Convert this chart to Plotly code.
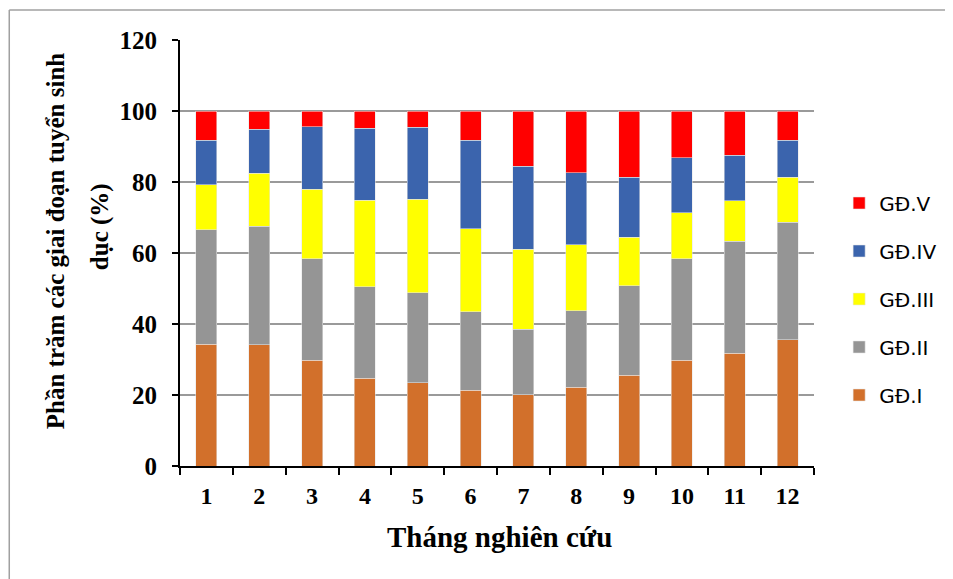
import plotly.graph_objects as go

months = ["1", "2", "3", "4", "5", "6", "7", "8", "9", "10", "11", "12"]
gd_I = [34.3, 34.1, 29.8, 24.7, 23.4, 21.3, 20.1, 22.2, 25.6, 29.8, 31.8, 35.6]
gd_II = [32.3, 33.5, 28.6, 25.8, 25.4, 22.2, 18.4, 21.6, 25.2, 28.6, 31.5, 33.0]
gd_III = [12.6, 14.9, 19.6, 24.4, 26.3, 23.4, 22.5, 18.5, 13.6, 12.9, 11.4, 12.7]
gd_IV = [12.5, 12.3, 17.6, 20.3, 20.3, 24.8, 23.4, 20.3, 16.9, 15.5, 12.8, 10.4]
gd_V = [8.3, 5.2, 4.4, 4.8, 4.6, 8.3, 15.6, 17.4, 18.7, 13.2, 12.5, 8.3]

series = [
    ("GĐ.I", gd_I, "#D2702B"),
    ("GĐ.II", gd_II, "#959595"),
    ("GĐ.III", gd_III, "#FFFF00"),
    ("GĐ.IV", gd_IV, "#3B64AD"),
    ("GĐ.V", gd_V, "#FF0000"),
]

fig = go.Figure()
n = len(series)
for i, (name, vals, col) in enumerate(series):
    fig.add_trace(go.Bar(
        x=months, y=vals, name=name, legendgroup=name, legendrank=n - i,
        marker=dict(color=col, line=dict(color="rgba(230,230,230,0.9)", width=0.6)),
    ))

serif = "Liberation Serif, Times New Roman, serif"
fig.update_layout(
    barmode="stack",
    bargap=0.6,
    width=945, height=571,
    paper_bgcolor="white", plot_bgcolor="white",
    margin=dict(l=172, r=138, t=32, b=113),
    showlegend=True,
    legend=dict(
        traceorder="grouped", tracegroupgap=19,
        x=1.038, xanchor="left", y=0.392, yanchor="middle",
        font=dict(family="DejaVu Sans, sans-serif", size=20, color="black"),
        bgcolor="rgba(0,0,0,0)",
    ),
    xaxis=dict(
        type="category",
        showline=True, linecolor="black", linewidth=2,
        ticks="outside", tickson="boundaries", ticklen=7, tickcolor="black", tickwidth=2,
        tickfont=dict(family=serif, size=24, color="black", weight="bold"),
        ticklabelstandoff=7,
    ),
    yaxis=dict(
        range=[0, 120], dtick=20,
        showline=True, linecolor="black", linewidth=2,
        ticks="outside", ticklen=6, tickcolor="black", tickwidth=2,
        showgrid=True, gridcolor="#9A9A9A", gridwidth=1.5,
        zeroline=False,
        tickfont=dict(family=serif, size=25, color="black", weight="bold"),
        ticklabelstandoff=10,
    ),
    annotations=[
        dict(text="<b>Phần trăm các giai đoạn tuyển sinh</b>", xref="paper", yref="paper",
             x=-0.1969, y=0.528, textangle=-90, showarrow=False,
             xanchor="center", yanchor="middle",
             font=dict(family=serif, size=25, color="black")),
        dict(text="<b>dục (%)</b>", xref="paper", yref="paper",
             x=-0.126, y=0.561, textangle=-90, showarrow=False,
             xanchor="center", yanchor="middle",
             font=dict(family=serif, size=25, color="black")),
        dict(text="<b>Tháng nghiên cứu</b>", xref="paper", yref="paper",
             x=0.504, y=-0.1667, showarrow=False,
             xanchor="center", yanchor="middle",
             font=dict(family=serif, size=29, color="black")),
    ],
    shapes=[
        dict(type="line", xref="paper", yref="paper",
             x0=-0.2693, x1=1.25, y0=1.0704, y1=1.0704,
             line=dict(color="#A0A0A0", width=1.5), layer="below"),
        dict(type="line", xref="paper", yref="paper",
             x0=-0.2693, x1=-0.2693, y0=1.0704, y1=-0.3,
             line=dict(color="#A0A0A0", width=1.5), layer="below"),
    ],
)

fig.write_html("out.html")
